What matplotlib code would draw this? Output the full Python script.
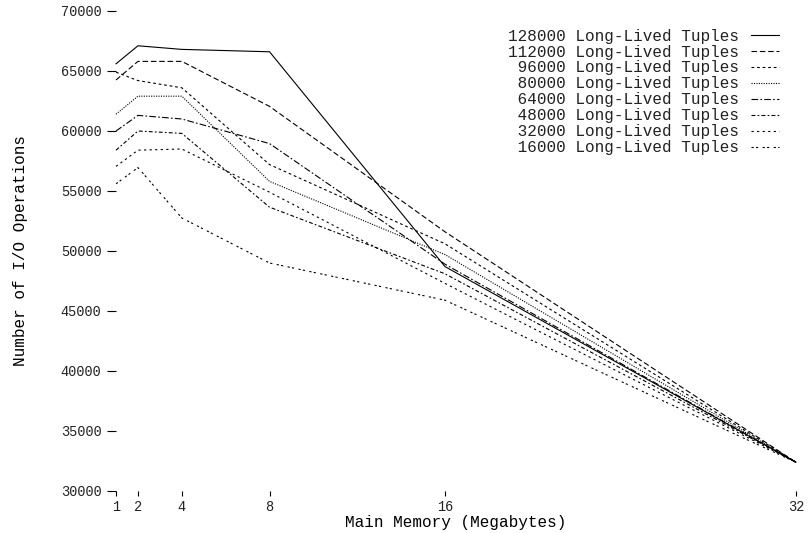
import numpy as np
import matplotlib
matplotlib.use('Agg')
import matplotlib.pyplot as plt

# main memory sizes (MB)
memory = [1, 2, 4, 8, 16, 32]

# number of long-lived tuples for each curve
tuples = [128000, 112000, 96000, 80000, 64000, 48000, 32000, 16000]

# I/O operations, one list per curve
io_128000 = [65600, 67100, 66800, 66600, 48700, 32400]
io_112000 = [64250, 65800, 65800, 62050, 51600, 32400]
io_96000 = [64900, 64200, 63600, 57200, 50600, 32400]
io_80000 = [61400, 62900, 62900, 55800, 49700, 32400]
io_64000 = [60000, 61300, 61000, 58950, 48900, 32400]
io_48000 = [58400, 60000, 59800, 53650, 48100, 32400]
io_32000 = [57050, 58400, 58500, 54900, 47300, 32400]
io_16000 = [55600, 56950, 52750, 49000, 45900, 32400]

series = [io_128000, io_112000, io_96000, io_80000,
          io_64000, io_48000, io_32000, io_16000]

styles = ['-', (0, (5, 2.5)), (0, (2.5, 2.5)), (0, (1, 1.2)),
          (0, (6, 2, 1.5, 2)), (0, (3.5, 2, 1.5, 2)),
          (0, (2, 3)), (0, (2, 2, 2, 4))]

plt.rcParams['font.family'] = 'Liberation Mono'
plt.rcParams['font.size'] = 11.5
plt.rcParams['text.color'] = '#222222'

fig = plt.figure(figsize=(8.08, 5.33), dpi=100)
ax = fig.add_axes([0.1436, 0.0788, 0.985 - 0.1436, 0.9794 - 0.0788])

for n, vals, ls in zip(tuples, series, styles):
    ax.plot(memory, vals, color='black', linewidth=0.8, linestyle=ls,
            label=f'{n:>6} Long-Lived Tuples', clip_on=False)

ax.set_xlim(1, 32)
ax.set_ylim(30000, 70000)
ax.set_xticks(memory)
ax.set_yticks(np.arange(30000, 70001, 5000))

for s in ax.spines.values():
    s.set_visible(False)

ax.tick_params(axis='y', direction='out', length=6.5, width=0.8, pad=4,
               labelsize=9.8, labelcolor='#222222')
ax.tick_params(axis='x', direction='out', length=3.6, width=0.8, pad=3,
               labelsize=9.8, labelcolor='#222222')

ax.set_xlabel('Main Memory (Megabytes)')
ax.set_ylabel('Number of I/O Operations')
ax.xaxis.set_label_coords(0.5, -0.05)
ax.yaxis.set_label_coords(-0.13, 0.5)

leg = ax.legend(loc='upper right', bbox_to_anchor=(0.987, 0.98),
                frameon=False, markerfirst=False, handlelength=1.75,
                handletextpad=0.75, labelspacing=0.06, borderpad=0)

fig.savefig('out.png', dpi=100)
